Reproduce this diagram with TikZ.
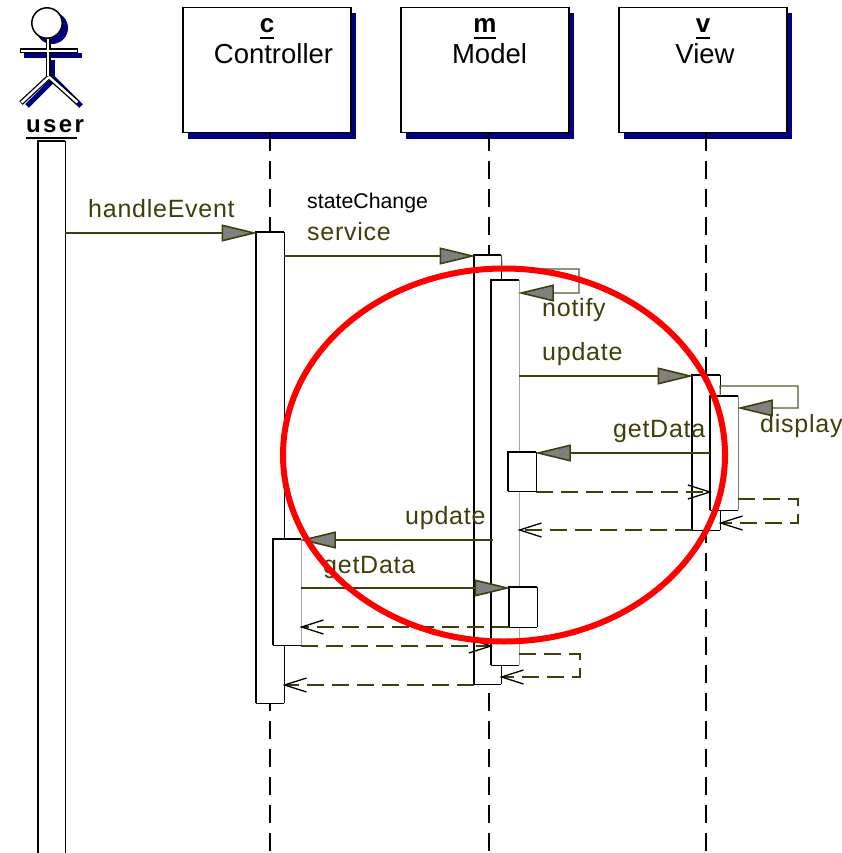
\documentclass[tikz,border=0pt]{standalone}
\usepackage{fontspec}
\setmainfont{Liberation Sans}
\newfontfamily\lblfont[LetterSpace=3]{Liberation Sans}
\newfontfamily\userfont[LetterSpace=10]{Liberation Sans}
\usetikzlibrary{arrows.meta}
\definecolor{msgol}{HTML}{3F3F0A}
\definecolor{selfol}{HTML}{5A5A30}
\definecolor{shadownavy}{HTML}{000080}
\tikzset{
  classbox/.style={draw=black,line width=1.5pt,fill=white,anchor=north west,inner sep=0pt,minimum width=168pt,minimum height=125pt},
  shadowbox/.style={fill=shadownavy,draw=none,anchor=north west,inner sep=0pt,minimum width=168pt,minimum height=126pt},
  lifeline/.style={draw=black,line width=1.5pt,dash pattern=on 18pt off 10pt},
  actbox/.style={fill=white,draw=none,anchor=north west,inner sep=0pt},
  tritip/.style={-{Triangle[length=36pt,width=17pt,fill=gray,color=msgol,line width=1.6pt]},shorten >=-1.5pt},
  msg/.style={draw=msgol,line width=1.4pt,tritip},
  selfmsg/.style={draw=selfol,line width=1.2pt,tritip},
  ret/.style={draw=msgol,line width=1.4pt,dash pattern=on 17pt off 8pt,shorten >=-2pt,-{Straight Barb[length=22pt,width=14pt,color=black,line width=1.3pt]}},
  lbl/.style={text=msgol,anchor=base west,inner sep=0pt,font=\lblfont\fontsize{25pt}{25pt}\selectfont},
  ctitle/.style={text=black,anchor=base,inner sep=0pt,font=\fontsize{27.5pt}{27.5pt}\selectfont},
  cid/.style={text=black,anchor=base,inner sep=0pt,font=\bfseries\fontsize{26pt}{26pt}\selectfont},
  ulin/.style={draw=black,line width=2pt},
  actorshadow/.style={draw=shadownavy,line width=5pt},
  actorblack/.style={draw=black,line width=5pt},
  actorwhite/.style={draw=white,line width=2.4pt},
}
% name, x, y, w, h, right/bottom colour
\newcommand{\activ}[6]{%
  \node[actbox,minimum width=#4pt,minimum height=#5pt] (#1) at (#2,#3) {};
  \draw[#6,line width=.8pt] (#1.north east) -- (#1.south east);
  \draw[black,line width=.8pt] (#1.south east) -- (#1.south west);
  \draw[black,line width=1.5pt] (#1.south west) -- (#1.north west) -- (#1.north east);
}
\begin{document}
\begin{tikzpicture}[x=1pt,y=-1pt]
\useasboundingbox (0,0) rectangle (842,853);
\clip (0,0) rectangle (842,853);
\fill[white] (0,0) rectangle (842,853);
% class boxes
\node[shadowbox] (cs) at (188,13) {};
\node[shadowbox] (ms) at (406,13) {};
\node[shadowbox] (vs) at (624,13) {};
\node[classbox] (c) at (182,7) {};
\node[classbox] (m) at (400,7) {};
\node[classbox] (v) at (618,7) {};
\node[cid] (cid) at (267,33) {c};
\node[cid] (mid) at (485,33) {m};
\node[cid] (vid) at (703,33) {v};
\draw[ulin] (260,38) -- (274,38);
\draw[ulin] (474,38) -- (496,38);
\draw[ulin] (696,38) -- (710,38);
\node[ctitle] (ct) at (273.5,64) {Controller};
\node[ctitle] (mt) at (489.5,64) {Model};
\node[ctitle] (vt) at (705,64) {View};
% actor
\fill[shadownavy] (52,28) circle (16);
\draw[actorshadow] (24,56) -- (82,56);
\draw[actorshadow] (52,60) -- (52,80);
\draw[actorshadow] (53,80) -- (27,106);
\draw[actorshadow] (53,78) -- (81,106);
\draw[actorblack] (48,38) -- (48,76);
\draw[actorblack] (20,51) -- (78,51);
\draw[actorblack] (49,77) -- (21,103) (49,77) -- (78,103);
\draw[actorwhite] (48,38) -- (48,76);
\draw[actorwhite] (21,51) -- (77,51);
\draw[actorwhite] (49,77) -- (21.5,102.5) (49,77) -- (77.5,102.5);
\draw[black,line width=1.5pt,fill=white] (47,23) circle (15.2);
\node[anchor=base west,inner sep=0pt,font=\userfont\bfseries\fontsize{24pt}{24pt}\selectfont] (ul) at (26,133) {user};
\draw[black,line width=1.5pt] (26,138) -- (77,138);
% lifelines
\coordinate (ce) at (270,853);
\coordinate (me) at (489,853);
\coordinate (ve) at (706,853);
\draw[lifeline] (270,133) -- (ce);
\draw[lifeline] (489,133) -- (me);
\draw[lifeline] (706,133) -- (ve);
% activations
\activ{ua}{38}{141}{27}{720}{black}
\activ{ca}{256}{232}{28}{471}{black}
\activ{ma}{474}{255}{27}{429}{black}
\activ{mb}{491}{280}{28}{385}{gray!70}
\activ{mc}{508}{452}{28}{39}{black}
\activ{va}{692}{375}{28}{155}{black}
\activ{vb}{710}{396}{28}{114}{gray}
\activ{cb}{273}{539}{28}{106}{gray!70}
\activ{md}{509}{587}{28}{40}{black}
% messages
\draw[msg] (ua.east |- 0,233) -- (ca.west |- 0,233);
\draw[msg] (ca.east |- 0,256) -- (ma.west |- 0,256);
\draw[selfmsg] (ma.north east) -- (502,269) -- (579,269) -- (579,293) -- (mb.east |- 0,293);
\draw[msg] (mb.east |- 0,376) -- (va.west |- 0,376);
\draw[selfmsg] (vb.north west -| va.east) -- (720,386) -- (798,386) -- (798,408) -- (vb.east |- 0,408);
\draw[msg] (vb.west |- 0,453) -- (mc.east |- 0,453);
\draw[ret] (mc.east |- 0,492) -- (vb.west |- 0,492);
\draw[ret] (vb.east |- 0,499) -- (798,499) -- (798,523) -- (va.east |- 0,523);
\draw[ret] (va.west |- 0,530) -- (mb.east |- 0,530);
\draw[msg] (493,540) -- (cb.east |- 0,540);
\draw[msg] (cb.east |- 0,588) -- (md.west |- 0,588);
\draw[ret] (md.west |- 0,627) -- (cb.east |- 0,627);
\draw[ret] (cb.east |- 0,646) -- (mb.west |- 0,646);
\draw[ret] (mb.east |- 0,654) -- (580,654) -- (580,677) -- (ma.east |- 0,677);
\draw[ret] (ma.west |- 0,685) -- (ca.east |- 0,685);
% labels
\node[lbl] (l1) at (88,217.5) {handleEvent};
\node[anchor=base west,inner sep=0pt,font=\fontsize{21.3pt}{21.3pt}\selectfont] (l2) at (307,208) {stateChange};
\node[lbl] (l3) at (307,240.5) {service};
\node[lbl] (l4) at (542,316.5) {notify};
\node[lbl] (l5) at (542,360.5) {update};
\node[lbl] (l6) at (613,437.5) {getData};
\node[lbl] (l7) at (760,432.5) {display};
\node[lbl] (l8) at (405,524.5) {update};
\node[lbl] (l9) at (323,573.5) {getData};
% highlight
\draw[red,line width=6pt] (504,455) ellipse [x radius=221,y radius=186.5];
\end{tikzpicture}
\end{document}
